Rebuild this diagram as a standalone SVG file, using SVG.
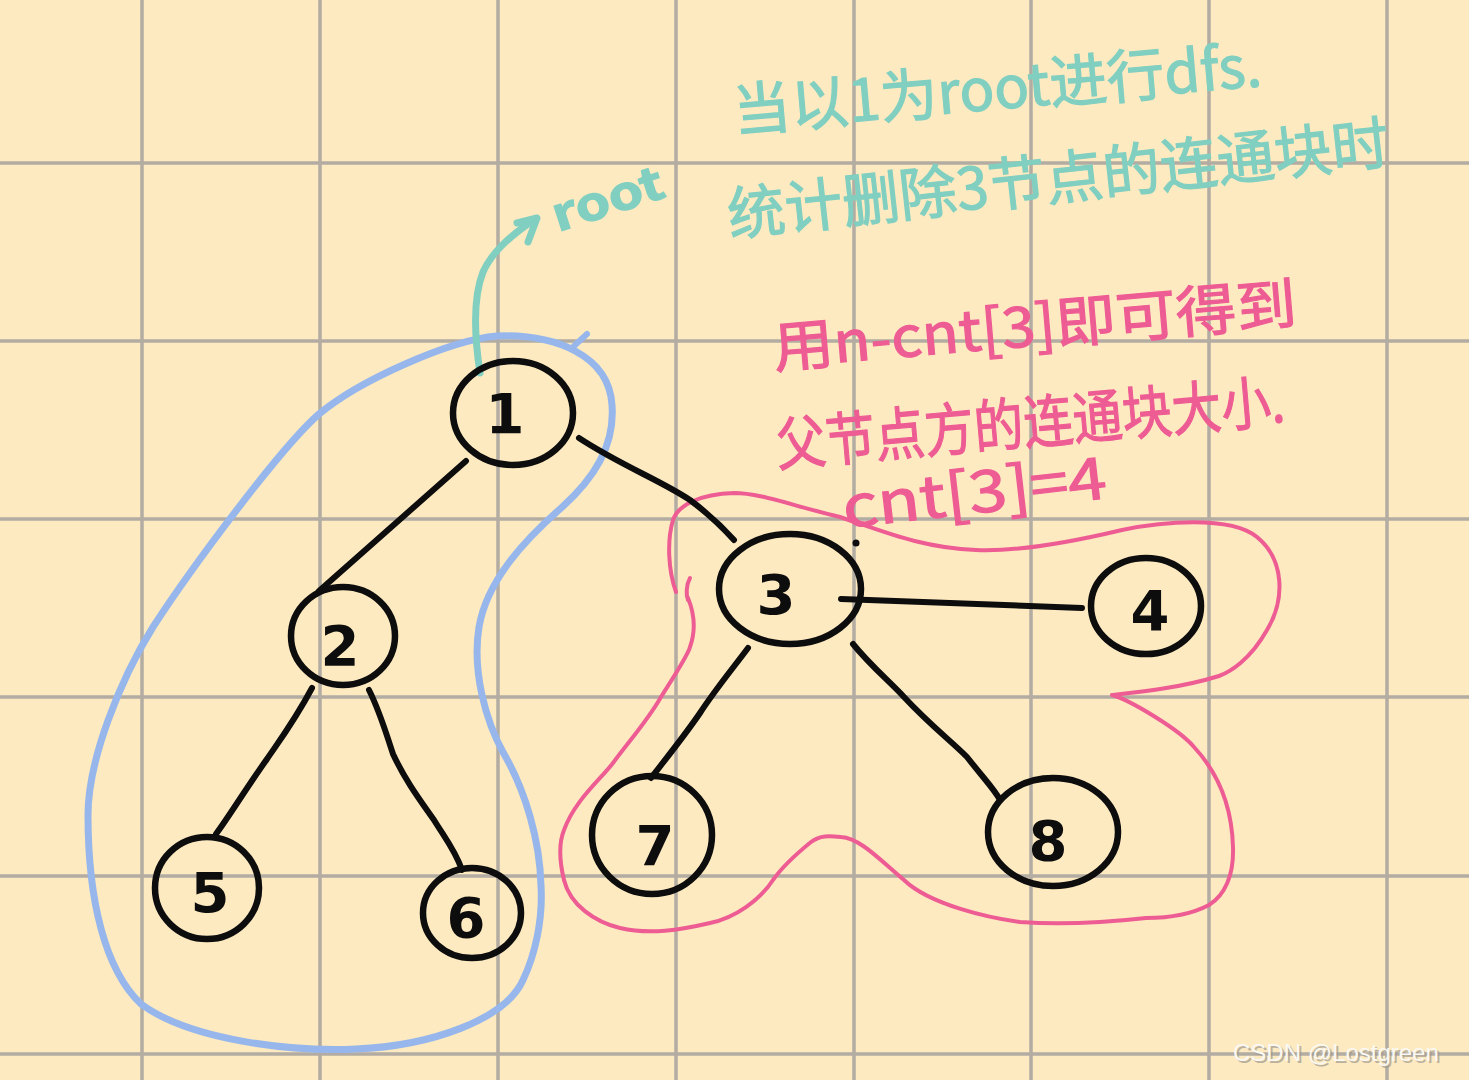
<svg xmlns="http://www.w3.org/2000/svg" width="1469" height="1080" viewBox="0 0 1469 1080">
<style>
.grid{stroke:#B3ACA2;stroke-width:3.5;fill:none}
.node{fill:none;stroke:#0d0d0d;stroke-width:6.5;stroke-linecap:round;stroke-linejoin:round}
.edge{fill:none;stroke:#0d0d0d;stroke-width:6;stroke-linecap:round;stroke-linejoin:round}
.num{font-family:"DejaVu Sans",sans-serif;font-weight:bold;font-size:56px;fill:#0d0d0d;text-anchor:middle}
.green{font-family:"Noto Sans CJK SC",sans-serif;fill:#80CFC0;stroke:#80CFC0;stroke-width:1.2}
.pink{font-family:"Noto Sans CJK SC",sans-serif;fill:#EE5C94;stroke:#EE5C94;stroke-width:1.2}
.wm{font-family:"Liberation Sans",sans-serif;font-size:24px}
</style>
<rect width="1469" height="1080" fill="#FDEAC0"/>
<g id="grid">
<path class="grid" d="M142 0V1080M320 0V1080M498 0V1080M676 0V1080M854 0V1080M1031 0V1080M1209 0V1080M1387 0V1080"/>
<path class="grid" d="M0 163H1469M0 341H1469M0 519H1469M0 697H1469M0 876H1469M0 1054H1469"/>
</g>
<g id="blue-loop">
<path d="M497 336 C450 340 360 380 319 414 C280 448 190 570 153 627 C120 680 88 760 88 815 C88 900 105 970 141 1004 C190 1040 290 1052 356 1049 C430 1046 505 1020 523 980 C535 955 543 920 541 886 C540 840 525 790 504 754 C485 720 472 670 479 627 C487 580 525 540 560 509 C595 478 615 445 612 405 C609 355 555 334 497 336 Z" fill="none" stroke="#97B7EC" stroke-width="7" stroke-linejoin="round"/>
<path d="M574 346 L587 334" fill="none" stroke="#97B7EC" stroke-width="6" stroke-linecap="round"/>
</g>
<g id="pink-loop" fill="none" stroke="#EE5C94" stroke-width="4" stroke-linecap="round" stroke-linejoin="round">
<path d="M676 592 C668 570 667 540 673 520 C678 505 700 494 734 493 C760 493 790 505 840 517 C880 530 920 548 976 550 C1020 552 1080 540 1122 530 C1160 522 1230 515 1257 537 C1285 560 1285 600 1267 630 C1250 660 1230 672 1219 676 C1180 688 1140 692 1112 695 C1130 700 1180 730 1194 747 C1220 775 1232 810 1233 847 C1234 875 1225 895 1209 905 C1190 915 1170 918 1146 918 C1110 922 1060 925 1020 922 C990 918 930 905 904 880 C880 860 860 838 841 837 C830 836 820 835 811 842 C795 855 780 870 773 880 C760 900 735 918 710 923 C680 930 650 935 620 928 C595 922 570 905 564 880 C558 855 560 840 564 830 C575 800 600 780 613 763 C630 740 648 720 661 697 C678 670 688 655 690 647 C696 630 695 615 688 598"/>
<path d="M690 578 C686 585 686 595 688 600"/>
</g>
<g id="root-arrow" fill="none" stroke="#80CFC0" stroke-width="7" stroke-linecap="round" stroke-linejoin="round">
<path d="M480 373 C475 340 472 300 483 272 C492 252 510 236 535 219"/>
<path d="M517 223 L537 218 L528 242"/>
</g>
<g id="connectors">
<path class="edge" d="M466 461 L319 591"/>
<path class="edge" d="M579 438 C620 465 660 480 690 500 C710 515 725 530 734 540"/>
<path class="edge" d="M841 599 L1082 608"/>
<path class="edge" d="M748 648 C730 672 715 690 700 713 C685 735 665 760 651 778"/>
<path class="edge" d="M853 644 C870 665 888 680 904 697 C930 725 950 740 967 757 C985 780 995 790 1000 800"/>
<path class="edge" d="M312 688 C295 720 280 740 267 759 C245 790 230 815 216 834"/>
<path class="edge" d="M369 690 C380 712 385 730 393 754 C405 780 420 800 434 820 C445 838 455 850 462 870"/>
</g>
<g id="node-1"><ellipse class="node" cx="513" cy="413" rx="60" ry="52"/><text class="num" x="505" y="433">1</text></g>
<g id="node-2"><ellipse class="node" cx="343" cy="636" rx="52" ry="49"/><text class="num" x="340" y="665" font-size="50">2</text></g>
<g id="node-3"><ellipse class="node" cx="790" cy="589" rx="71" ry="55"/><text class="num" x="776" y="614">3</text></g>
<g id="node-4"><ellipse class="node" cx="1146" cy="606" rx="55" ry="48"/><text class="num" x="1150" y="630">4</text></g>
<g id="node-5"><ellipse class="node" cx="207" cy="888" rx="52" ry="51"/><text class="num" x="210" y="912">5</text></g>
<g id="node-6"><ellipse class="node" cx="472" cy="913" rx="49" ry="45"/><text class="num" x="466" y="937">6</text></g>
<g id="node-7"><ellipse class="node" cx="652" cy="835" rx="60" ry="59"/><text class="num" x="655" y="865">7</text></g>
<g id="node-8"><ellipse class="node" cx="1053" cy="832" rx="65" ry="54"/><text class="num" x="1048" y="860">8</text></g>
<circle cx="856" cy="543" r="3.5" fill="#0d0d0d"/>
<g id="annotations">
<text class="green" font-size="46" font-weight="bold" x="558" y="232" textLength="115" lengthAdjust="spacingAndGlyphs" transform="rotate(-18 558 232)">root</text>
<text class="green" font-size="58" x="735" y="132" textLength="530" lengthAdjust="spacingAndGlyphs" transform="rotate(-5 735 132)">当以1为root进行dfs.</text>
<text class="green" font-size="58" x="730" y="236" textLength="665" lengthAdjust="spacingAndGlyphs" transform="rotate(-6.3 730 236)">统计删除3节点的连通块时</text>
<text class="pink" font-size="56" x="775" y="368" textLength="525" lengthAdjust="spacingAndGlyphs" transform="rotate(-4.9 775 368)">用n-cnt[3]即可得到</text>
<text class="pink" font-size="58" x="778" y="466" textLength="510" lengthAdjust="spacingAndGlyphs" transform="rotate(-5 778 466)">父节点方的连通块大小.</text>
<text class="pink" font-size="58" x="845" y="528" textLength="265" lengthAdjust="spacingAndGlyphs" transform="rotate(-6.5 845 528)">cnt[3]=4</text>
</g>
<g id="watermark">
<text class="wm" x="1235" y="1063" fill="#9E988E" opacity="0.7">CSDN @Lostgreen</text>
<text class="wm" x="1233" y="1061" fill="#FAF8F2">CSDN @Lostgreen</text>
</g>
</svg>
